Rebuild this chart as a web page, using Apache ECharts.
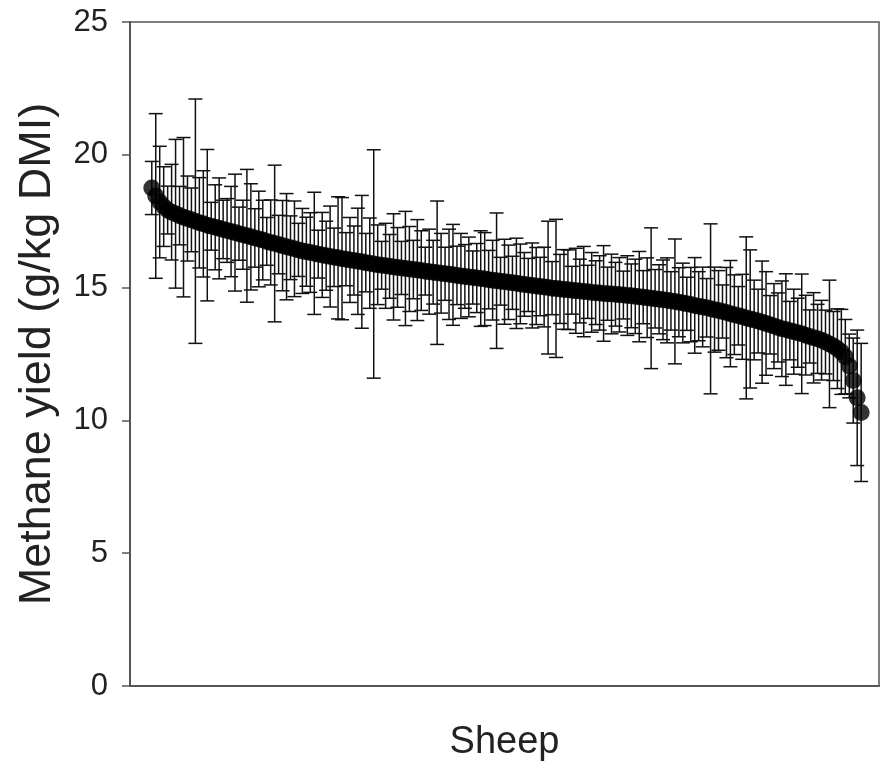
<!DOCTYPE html>
<html>
<head>
<meta charset="utf-8">
<title>Methane yield by sheep</title>
<script src="https://cdn.jsdelivr.net/npm/echarts@6/dist/echarts.min.js"></script>
<style>
  html, body { margin: 0; padding: 0; background: #fff; }
  #main { width: 881px; height: 774px; }
</style>
</head>
<body>
<div id="main"></div>
<script>
// mean methane yield per sheep, sorted high to low (g/kg DMI)
const means = [
  18.75, 18.45, 18.22, 18.05, 17.92, 17.84, 17.78, 17.71, 17.65, 17.60,
  17.55, 17.50, 17.44, 17.40, 17.35, 17.31, 17.27, 17.23, 17.19, 17.15,
  17.11, 17.07, 17.03, 16.99, 16.95, 16.91, 16.87, 16.83, 16.79, 16.74,
  16.70, 16.66, 16.62, 16.58, 16.54, 16.50, 16.46, 16.42, 16.38, 16.35,
  16.32, 16.29, 16.26, 16.23, 16.20, 16.17, 16.14, 16.12, 16.09, 16.07,
  16.04, 16.02, 15.99, 15.97, 15.94, 15.92, 15.89, 15.86, 15.84, 15.82,
  15.80, 15.78, 15.76, 15.74, 15.72, 15.70, 15.68, 15.66, 15.64, 15.62,
  15.60, 15.58, 15.56, 15.54, 15.52, 15.50, 15.48, 15.46, 15.44, 15.42,
  15.40, 15.38, 15.36, 15.34, 15.32, 15.30, 15.28, 15.26, 15.24, 15.22,
  15.20, 15.18, 15.16, 15.14, 15.12, 15.10, 15.08, 15.06, 15.04, 15.02,
  15.00, 14.98, 14.97, 14.95, 14.93, 14.92, 14.90, 14.88, 14.87, 14.85,
  14.84, 14.82, 14.81, 14.80, 14.78, 14.77, 14.76, 14.75, 14.73, 14.72,
  14.70, 14.69, 14.67, 14.66, 14.64, 14.62, 14.60, 14.58, 14.56, 14.54,
  14.52, 14.50, 14.48, 14.45, 14.42, 14.39, 14.36, 14.33, 14.30, 14.27,
  14.24, 14.20, 14.17, 14.14, 14.10, 14.06, 14.02, 13.98, 13.94, 13.90,
  13.86, 13.82, 13.78, 13.74, 13.70, 13.65, 13.60, 13.55, 13.50, 13.45,
  13.42, 13.38, 13.34, 13.30, 13.26, 13.21, 13.16, 13.11, 13.07, 13.02,
  12.95, 12.88, 12.80, 12.70, 12.58, 12.40, 12.05, 11.50, 10.85, 10.30
];

// half length of each error bar
const errs = [
  1.00, 3.10, 2.10, 1.50, 0.90, 1.80, 2.80, 1.10, 3.00, 1.60,
  1.20, 4.60, 1.70, 2.00, 2.85, 0.90, 1.60, 1.90, 1.10, 1.20,
  1.70, 2.20, 1.00, 1.30, 2.50, 2.00, 1.10, 1.80, 1.50, 0.90,
  1.60, 2.95, 1.10, 1.70, 2.00, 1.20, 1.80, 1.00, 1.60, 1.30,
  1.50, 2.30, 0.90, 1.60, 1.30, 1.90, 1.10, 2.30, 2.30, 1.00,
  1.60, 1.30, 2.00, 2.50, 1.10, 1.70, 4.30, 1.50, 0.90, 1.60,
  1.20, 2.00, 1.50, 1.00, 2.15, 1.60, 1.10, 1.90, 1.50, 0.90,
  1.60, 1.20, 2.70, 1.50, 1.00, 1.70, 1.90, 1.10, 1.60, 1.20,
  1.50, 1.00, 1.30, 1.80, 1.75, 1.10, 1.50, 2.55, 0.90, 1.60,
  1.40, 1.00, 1.70, 1.50, 1.20, 1.00, 1.60, 1.45, 1.10, 1.50,
  2.50, 1.00, 2.60, 1.30, 1.50, 1.50, 0.90, 1.60, 1.20, 1.70,
  1.00, 1.50, 1.20, 1.40, 1.80, 1.00, 1.50, 1.20, 1.40, 0.90,
  1.50, 1.20, 1.40, 1.70, 1.00, 1.50, 2.65, 1.10, 1.30, 1.50,
  1.60, 1.10, 2.35, 1.30, 1.50, 1.00, 1.40, 1.80, 1.30, 1.50,
  1.10, 3.20, 1.60, 1.50, 1.00, 1.70, 2.00, 1.50, 1.10, 1.60,
  3.05, 2.60, 1.50, 1.20, 2.30, 1.95, 1.10, 1.60, 1.30, 1.80,
  2.10, 1.10, 1.60, 1.30, 2.25, 1.50, 1.00, 1.70, 1.30, 1.50,
  1.20, 2.40, 1.30, 1.50, 1.60, 1.40, 1.20, 1.60, 2.55, 2.60
];

const yTicks = [0, 5, 10, 15, 20, 25];
const yTitle = 'Methane yield (g/kg DMI)';
const xTitle = 'Sheep';

const points = means.map((m, i) => [i + 1, m]);
const bars = means.map((m, i) => [i + 1, m - errs[i], m + errs[i]]);

const axisColor = '#555';
const font = 'Liberation Sans, Arial, sans-serif';

const chart = echarts.init(document.getElementById('main'));

chart.setOption({
  animation: false,
  grid: {
    left: 130, top: 22, right: 2, bottom: 88,
    show: true, borderColor: axisColor, borderWidth: 1.5
  },
  xAxis: {
    type: 'value',
    min: -4.5,
    max: means.length + 4.5,
    name: xTitle,
    nameLocation: 'middle',
    nameGap: 38,
    nameTextStyle: { fontFamily: font, fontSize: 38, color: '#222' },
    axisLine: { show: true, onZero: false, lineStyle: { color: axisColor, width: 2 } },
    axisTick: { show: false },
    axisLabel: { show: false },
    splitLine: { show: false }
  },
  yAxis: {
    type: 'value',
    min: yTicks[0],
    max: yTicks[yTicks.length - 1],
    interval: 5,
    name: yTitle,
    nameLocation: 'middle',
    nameGap: 70,
    nameRotate: 90,
    nameTextStyle: { fontFamily: font, fontSize: 45, color: '#222' },
    axisLine: { show: true, onZero: false, lineStyle: { color: axisColor, width: 2 } },
    axisTick: { show: true, length: 8, lineStyle: { color: axisColor, width: 1.5 } },
    axisLabel: { fontFamily: font, fontSize: 31, color: '#222', margin: 22 },
    splitLine: { show: false }
  },
  series: [
    {
      // error bars with caps
      type: 'custom',
      data: bars,
      encode: { x: 0, y: [1, 2] },
      renderItem: function (params, api) {
        const x = api.value(0);
        const lo = api.coord([x, api.value(1)]);
        const hi = api.coord([x, api.value(2)]);
        const w = 7;
        const style = { stroke: '#111', lineWidth: 1.5 };
        return {
          type: 'group',
          children: [
            { type: 'line', shape: { x1: hi[0], y1: hi[1], x2: lo[0], y2: lo[1] }, style: style },
            { type: 'line', shape: { x1: hi[0] - w, y1: hi[1], x2: hi[0] + w, y2: hi[1] }, style: style },
            { type: 'line', shape: { x1: lo[0] - w, y1: lo[1], x2: lo[0] + w, y2: lo[1] }, style: style }
          ]
        };
      },
      z: 2
    },
    {
      type: 'scatter',
      data: points,
      symbol: 'circle',
      symbolSize: 17,
      itemStyle: { color: '#000' },
      z: 3
    }
  ]
});
</script>
</body>
</html>
